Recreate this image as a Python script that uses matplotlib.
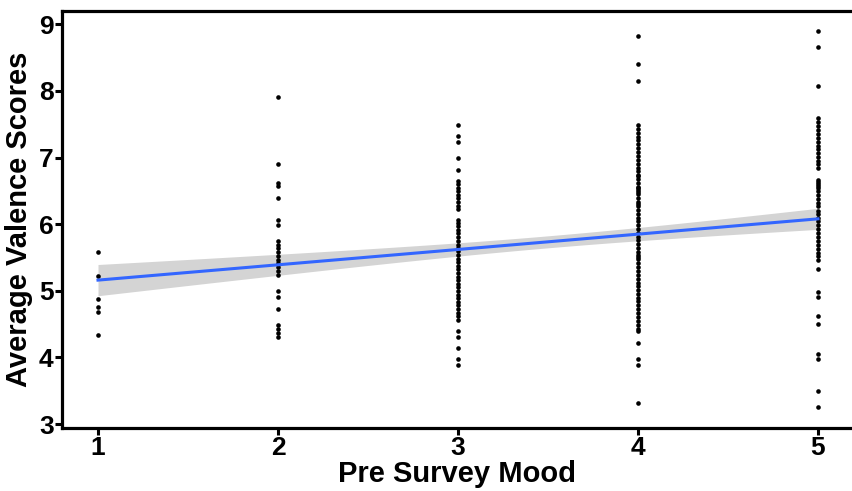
import numpy as np
import matplotlib
matplotlib.use("Agg")
import matplotlib.pyplot as plt

# average valence per respondent, grouped by pre-survey mood rating
mood_levels = [1, 2, 3, 4, 5]

valence_mood1 = [5.58, 5.22, 4.88, 4.76, 4.68, 4.33]

valence_mood2 = [7.91, 6.90, 6.62, 6.57, 6.40, 6.07, 5.98, 5.74, 5.69, 5.64,
                 5.58, 5.52, 5.46, 5.41, 5.35, 5.29, 5.23, 4.99, 4.90, 4.73,
                 4.49, 4.42, 4.36, 4.30]

valence_mood3 = [7.49, 7.32, 7.23, 6.99, 6.81, 6.65, 6.60, 6.55, 6.50, 6.44,
                 6.39, 6.33, 6.28, 6.23, 6.07, 6.02, 5.97, 5.91, 5.86, 5.80,
                 5.75, 5.69, 5.64, 5.59, 5.53, 5.48, 5.43, 5.37, 5.32, 5.26,
                 5.21, 5.16, 5.10, 5.05, 4.99, 4.94, 4.89, 4.83, 4.78, 4.72,
                 4.67, 4.62, 4.56, 4.40, 4.31, 4.14, 3.98, 3.89]

valence_mood4 = [8.83, 8.41, 8.15, 7.49, 7.43, 7.37, 7.31, 7.26, 7.20, 7.14,
                 7.08, 7.03, 6.97, 6.91, 6.85, 6.80, 6.74, 6.72, 6.68, 6.62,
                 6.56, 6.54, 6.51, 6.48, 6.45, 6.39, 6.33, 6.31, 6.27, 6.22,
                 6.16, 6.10, 6.04, 5.99, 5.93, 5.87, 5.81, 5.76, 5.70, 5.64,
                 5.58, 5.53, 5.51, 5.47, 5.41, 5.35, 5.30, 5.24, 5.18, 5.12,
                 5.07, 5.01, 4.95, 4.89, 4.84, 4.78, 4.72, 4.66, 4.61, 4.55,
                 4.49, 4.43, 4.39, 4.22, 3.98, 3.89, 3.32]

valence_mood5 = [8.90, 8.66, 8.07, 7.59, 7.53, 7.47, 7.41, 7.36, 7.30, 7.24,
                 7.18, 7.13, 7.07, 7.01, 6.95, 6.90, 6.84, 6.66, 6.64, 6.61,
                 6.58, 6.55, 6.50, 6.44, 6.38, 6.32, 6.27, 6.20, 6.15, 6.09,
                 6.04, 5.98, 5.92, 5.86, 5.80, 5.75, 5.69, 5.63, 5.57, 5.52,
                 5.46, 5.33, 4.98, 4.90, 4.62, 4.50, 4.05, 3.97, 3.50, 3.25]

# linear model summary (lm fit with 95% band)
fit_intercept = 4.93
fit_slope = 0.23
band_min = 0.09        # half-width of band at its narrowest
band_center = 3.5      # x where the band is narrowest
band_spread = 0.0075   # growth of squared half-width away from the centre

groups = [valence_mood1, valence_mood2, valence_mood3, valence_mood4, valence_mood5]

plt.rcParams['font.family'] = ['Liberation Sans', 'DejaVu Sans']

fig = plt.figure(figsize=(8.52, 4.91), dpi=100)
ax = fig.add_axes([62 / 852, 63 / 491, 790 / 852, 417 / 491])

for lvl, vals in zip(mood_levels, groups):
    ax.scatter([lvl] * len(vals), vals, s=11, color='black', linewidths=0, zorder=3)

xs = np.linspace(mood_levels[0], mood_levels[-1], 100)
fit = fit_intercept + fit_slope * xs
half = np.sqrt(band_min ** 2 + band_spread * (xs - band_center) ** 2)
ax.fill_between(xs, fit - half, fit + half, color='#d4d4d4', linewidth=0, zorder=2)
ax.plot(xs, fit, color='#3366ff', linewidth=2.2, zorder=4)

ax.set_xlim(0.8, 5.189)
ax.set_ylim(2.94, 9.2)
ax.set_xticks(mood_levels)
ax.set_yticks([3, 4, 5, 6, 7, 8, 9])

for side in ['left', 'bottom', 'top']:
    ax.spines[side].set_linewidth(2.3)
    ax.spines[side].set_color('black')
ax.spines['right'].set_visible(False)

ax.tick_params(axis='both', direction='out', length=5, width=2.2,
               labelsize=19, color='black', labelcolor='black', pad=1)
for lab in ax.get_xticklabels() + ax.get_yticklabels():
    lab.set_fontweight('bold')

ax.set_xlabel('Pre Survey Mood', fontsize=21, fontweight='bold', labelpad=0)
ax.set_ylabel('Average Valence Scores', fontsize=21, fontweight='bold', labelpad=4)

fig.savefig('out.png', dpi=100)
